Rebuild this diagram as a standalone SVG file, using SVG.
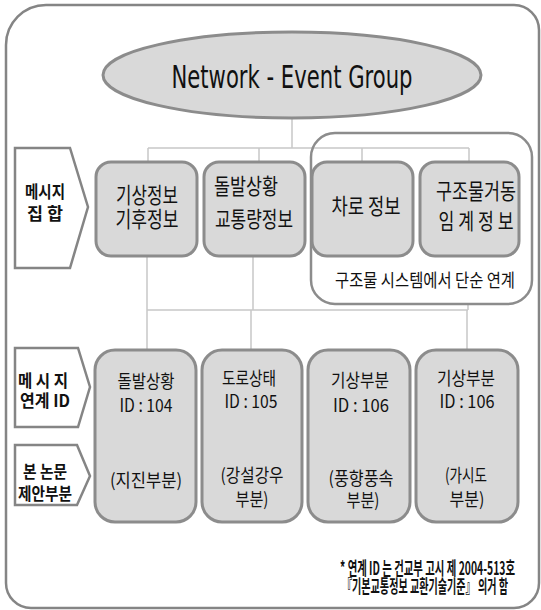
<svg xmlns="http://www.w3.org/2000/svg" width="541" height="610" viewBox="0 0 541 610">
<style>
.box{fill:#d9d9d9;stroke:#8c8c8c;stroke-width:3}
.tag{fill:#fff;stroke:#858585;stroke-width:2.5;stroke-linejoin:miter}
.ln{fill:none;stroke:#c8c8c8;stroke-width:1.5}
.kr{font-family:"Noto Sans CJK KR","Noto Sans",sans-serif;fill:#111;text-anchor:middle}
.t22{font-size:22px}
.t18{font-size:18px}
.tb{font-size:17px;font-weight:bold}
.fn{font-family:"Noto Sans CJK KR","Noto Sans",sans-serif;font-size:18px;font-weight:bold;fill:#111}
</style>
<rect width="541" height="610" fill="#fff"/>
<path id="frame" d="M46,5 H514 A25,25 0 0 1 539,30 V583 A25,25 0 0 1 514,608 H31 A25,25 0 0 1 6,583 V45 A40,40 0 0 1 46,5 Z" fill="none" stroke="#858585" stroke-width="2.5"/>

<g id="connectors">
<path class="ln" d="M292,118 V148 M148,148 H469 M148,148 V162 M259,148 V162 M362,148 V162 M469,148 V162"/>
<path class="ln" d="M147,256 V310 M253,256 V310 M468,304 V310 M147,310 H468 M147,310 V350 M251,310 V350 M467,310 V350"/>
</g>

<g id="root">
<ellipse cx="292" cy="75" rx="189" ry="43" class="box"/>
<text x="292" y="88" font-family="'Liberation Sans Narrow','DejaVu Sans Condensed','Liberation Sans',sans-serif" font-size="32" fill="#111" text-anchor="middle" textLength="241" lengthAdjust="spacingAndGlyphs">Network - Event Group</text>
</g>

<g id="structure-group">
<rect x="311" y="133" width="221" height="171" rx="24" fill="none" stroke="#8c8c8c" stroke-width="2.5"/>
<text class="kr t18" x="425" y="287" textLength="180" lengthAdjust="spacingAndGlyphs">구조물 시스템에서 단순 연계</text>
</g>

<g id="tag-msgset">
<path class="tag" d="M15,148 H70 L88,207 L70,268 H15 Z"/>
<text class="kr tb" x="45" y="198" textLength="40" lengthAdjust="spacingAndGlyphs">메시지</text>
<text class="kr tb" x="45" y="220" textLength="36" lengthAdjust="spacingAndGlyphs">집 합</text>
</g>

<g id="tag-linkid">
<path class="tag" d="M15,348 H78 L90,387 L78,427 H15 Z"/>
<text class="kr tb" x="43" y="387" textLength="50" lengthAdjust="spacingAndGlyphs">메 시 지</text>
<text class="kr tb" x="45" y="407" textLength="50" lengthAdjust="spacingAndGlyphs">연계 ID</text>
</g>

<g id="tag-proposal">
<path class="tag" d="M15,445 H77 L90,476 L77,505 H15 Z"/>
<text class="kr tb" x="45" y="478" textLength="44" lengthAdjust="spacingAndGlyphs">본 논문</text>
<text class="kr tb" x="45" y="500" textLength="54" lengthAdjust="spacingAndGlyphs">제안부분</text>
</g>

<g id="u1">
<rect class="box" x="96" y="162" width="101" height="94" rx="15"/>
<text class="kr t22" x="147" y="203" textLength="62" lengthAdjust="spacingAndGlyphs">기상정보</text>
<text class="kr t22" x="147" y="227" textLength="63" lengthAdjust="spacingAndGlyphs">기후정보</text>
</g>
<g id="u2">
<rect class="box" x="204" y="162" width="101" height="94" rx="15"/>
<text class="kr t22" x="246" y="194" textLength="64" lengthAdjust="spacingAndGlyphs">돌발상황</text>
<text class="kr t22" x="254" y="227" textLength="78" lengthAdjust="spacingAndGlyphs">교통량정보</text>
</g>
<g id="u3">
<rect class="box" x="312" y="162" width="101" height="94" rx="15"/>
<text class="kr t22" x="366" y="214" textLength="69" lengthAdjust="spacingAndGlyphs">차로 정보</text>
</g>
<g id="u4">
<rect class="box" x="420" y="162" width="99" height="94" rx="15"/>
<text class="kr t22" x="476" y="199" textLength="80" lengthAdjust="spacingAndGlyphs">구조물거동</text>
<text class="kr t22" x="476" y="229" textLength="75" lengthAdjust="spacingAndGlyphs">임 계 정 보</text>
</g>

<g id="l1">
<rect class="box" x="95" y="350" width="101" height="172" rx="20"/>
<text class="kr t18" x="146" y="388" textLength="57" lengthAdjust="spacingAndGlyphs">돌발상황</text>
<text class="kr t18" x="146" y="412" textLength="53" lengthAdjust="spacingAndGlyphs">ID : 104</text>
<text class="kr t18" x="146" y="487" textLength="72" lengthAdjust="spacingAndGlyphs">(지진부분)</text>
</g>
<g id="l2">
<rect class="box" x="202" y="350" width="100" height="172" rx="20"/>
<text class="kr t18" x="249" y="385" textLength="54" lengthAdjust="spacingAndGlyphs">도로상태</text>
<text class="kr t18" x="251" y="408" textLength="53" lengthAdjust="spacingAndGlyphs">ID : 105</text>
<text class="kr t18" x="252" y="482" textLength="63" lengthAdjust="spacingAndGlyphs">(강설강우</text>
<text class="kr t18" x="252" y="506" textLength="33" lengthAdjust="spacingAndGlyphs">부분)</text>
</g>
<g id="l3">
<rect class="box" x="308" y="350" width="102" height="172" rx="20"/>
<text class="kr t18" x="360" y="387" textLength="58" lengthAdjust="spacingAndGlyphs">기상부분</text>
<text class="kr t18" x="361" y="412" textLength="56" lengthAdjust="spacingAndGlyphs">ID : 106</text>
<text class="kr t18" x="361" y="485" textLength="65" lengthAdjust="spacingAndGlyphs">(풍향풍속</text>
<text class="kr t18" x="363" y="507" textLength="33" lengthAdjust="spacingAndGlyphs">부분)</text>
</g>
<g id="l4">
<rect class="box" x="416" y="350" width="102" height="172" rx="20"/>
<text class="kr t18" x="466" y="385" textLength="58" lengthAdjust="spacingAndGlyphs">기상부분</text>
<text class="kr t18" x="467" y="408" textLength="55" lengthAdjust="spacingAndGlyphs">ID : 106</text>
<text class="kr t18" x="466" y="482" textLength="42" lengthAdjust="spacingAndGlyphs">(가시도</text>
<text class="kr t18" x="467" y="506" textLength="35" lengthAdjust="spacingAndGlyphs">부분)</text>
</g>

<g id="footnote">
<text class="fn" x="340" y="575" textLength="175" lengthAdjust="spacingAndGlyphs">* 연계 ID 는 건교부 고시 제 2004-513호</text>
<text class="fn" x="342" y="593" textLength="166" lengthAdjust="spacingAndGlyphs">『기본교통정보 교환기술기준』 의거 함</text>
</g>
</svg>
